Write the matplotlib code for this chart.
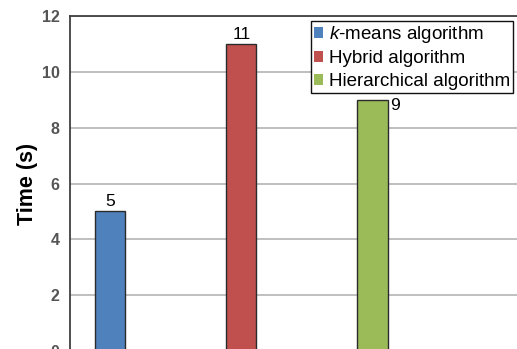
import matplotlib
matplotlib.use("Agg")
import matplotlib.pyplot as plt

plt.rcParams['font.family'] = ['Liberation Sans', 'DejaVu Sans']
plt.rcParams['mathtext.fontset'] = 'custom'
plt.rcParams['mathtext.it'] = 'Liberation Sans:italic'
plt.rcParams['mathtext.rm'] = 'Liberation Sans'

# Run times of the three clustering algorithms
labels = ["$k$-means algorithm", "Hybrid algorithm", "Hierarchical algorithm"]
times = [5, 11, 9]
colors = ["#4F81BD", "#C0504D", "#9BBB59"]
y_ticks = [0, 2, 4, 6, 8, 10, 12]

fig = plt.figure(figsize=(5.17, 3.49), dpi=100)
ax = fig.add_axes([70 / 517, -0.006, 1 - 70 / 517, 0.960])

positions = [0, 1, 2]
for x, t, c, lab in zip(positions, times, colors, labels):
    ax.bar(x, t, width=0.23, color=c, edgecolor="#2b2b2b", linewidth=1.0,
           label=lab, zorder=3)

ax.set_xlim(-0.305, 3.1)
ax.set_ylim(0, 12)
ax.set_yticks(y_ticks)
ax.set_yticklabels([str(v) for v in y_ticks], fontsize=11.5, color="#555555",
                   fontweight="bold")
ax.tick_params(axis="y", length=0, pad=7.5)
ax.set_xticks([])

ax.yaxis.grid(True, color="#b4b4b4", linewidth=1.2, zorder=0)
ax.set_axisbelow(True)
for side in ["right", "bottom"]:
    ax.spines[side].set_visible(False)
for side in ["left", "top"]:
    ax.spines[side].set_color("#404040")
    ax.spines[side].set_linewidth(1.3)

ax.set_ylabel("Time (s)", fontsize=15.5, fontweight="bold", labelpad=3)

# Value labels
ax.annotate(str(times[0]), (positions[0], times[0]), xytext=(0, 1.5),
            textcoords="offset points", ha="center", va="bottom", fontsize=12.5)
ax.annotate(str(times[1]), (positions[1], times[1]), xytext=(0, 1.5),
            textcoords="offset points", ha="center", va="bottom", fontsize=12.5)
ax.annotate(str(times[2]), (positions[2] + 0.115, times[2]), xytext=(2, -4),
            textcoords="offset points", ha="left", va="center", fontsize=12.5)

leg = ax.legend(loc="upper right", bbox_to_anchor=(513 / 517, 1 - 21 / 349),
                bbox_transform=fig.transFigure, fontsize=13.5, frameon=True,
                fancybox=False, framealpha=1, edgecolor="#111111",
                handlelength=0.5, handleheight=0.5, handletextpad=0.3,
                borderpad=0.15, labelspacing=0.3, borderaxespad=0)
leg.get_frame().set_linewidth(1.0)
for h in leg.legend_handles:
    h.set_edgecolor("none")

fig.savefig("out.png", dpi=100, facecolor="white")
